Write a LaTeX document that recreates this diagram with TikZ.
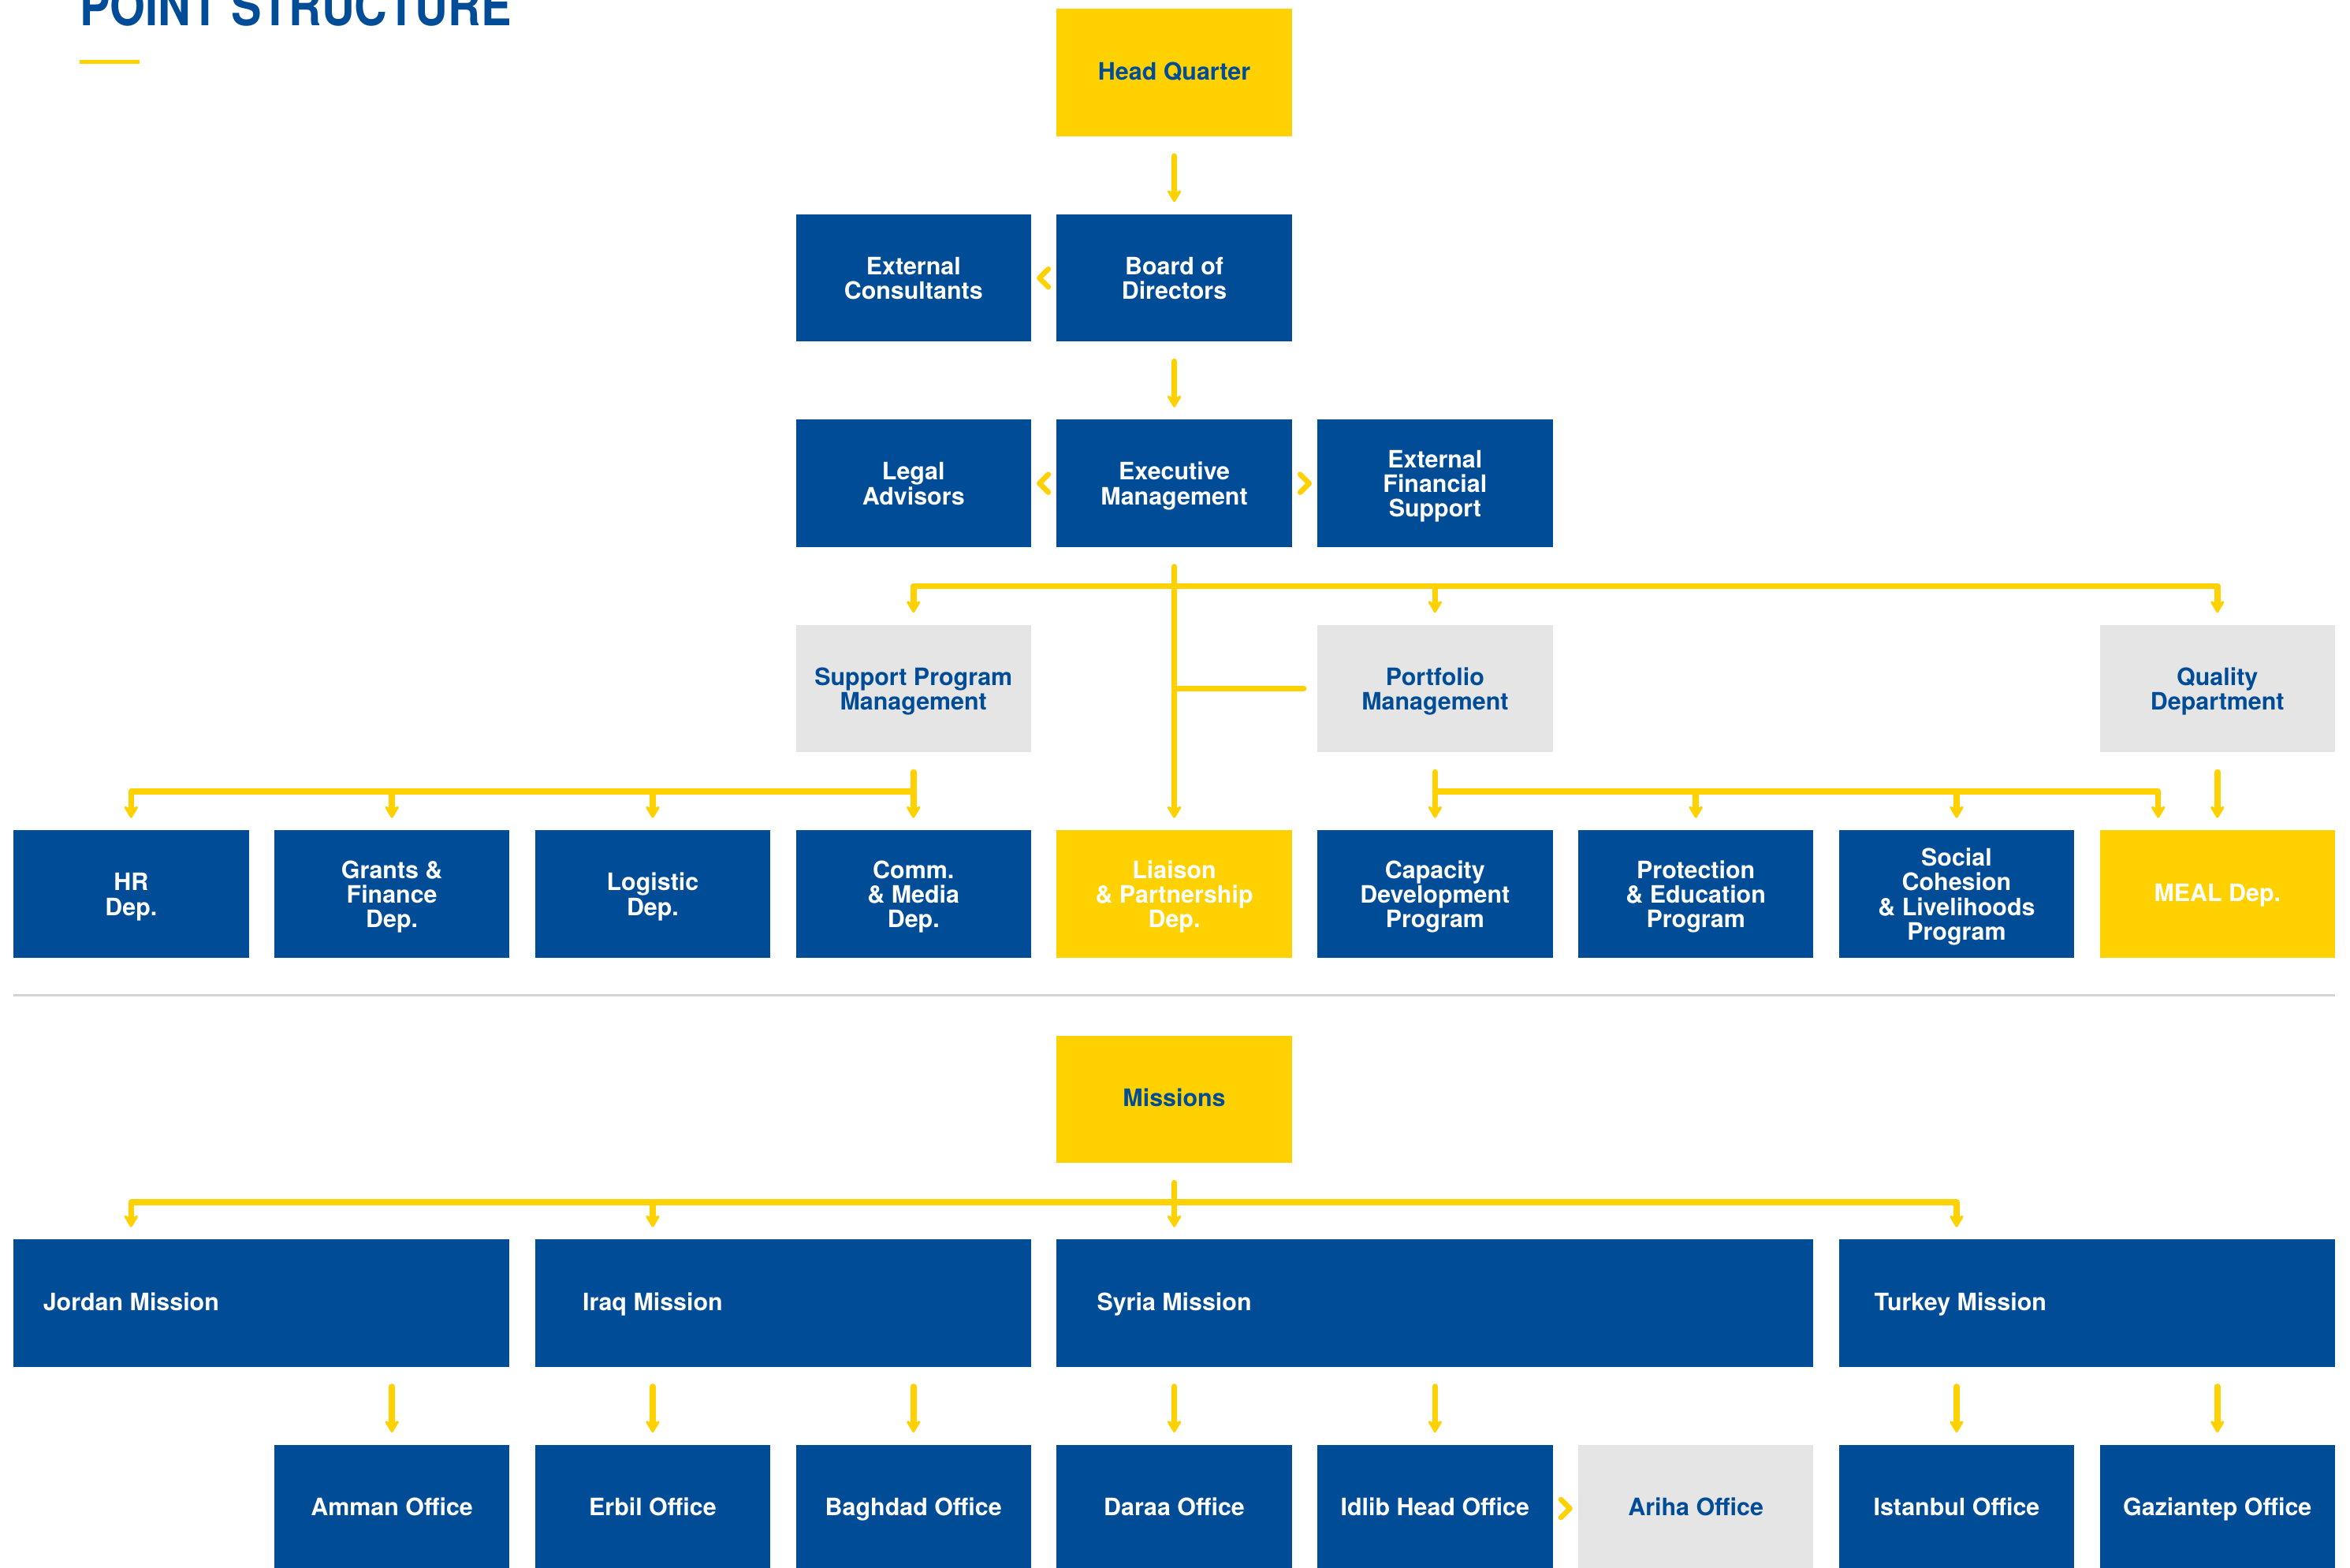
\documentclass[tikz,border=0pt]{standalone}
\usepackage{fontspec}
\setmainfont{TeX Gyre Heros}
\newfontfamily\titlefont{TeX Gyre Heros}[FakeStretch=0.843]
\usetikzlibrary{arrows.meta,calc}
\definecolor{cblue}{RGB}{0,76,151}
\definecolor{cyellow}{RGB}{255,209,0}
\definecolor{cgray}{RGB}{229,229,229}
\definecolor{csep}{RGB}{212,212,212}
\newcommand{\tstrutht}{19.5bp}
\newcommand{\topstrutx}{\rule{0pt}{\tstrutht}}
\newcommand{\botstrutx}{\rule[-3.5bp]{0pt}{3.5bp}}
\newcommand{\ms}{\rule{0pt}{15.5bp}}
\begin{document}
\begin{tikzpicture}[x=1bp,y=-1bp,
 txt/.style={font=\fontsize{16bp}{16.5bp}\selectfont\bfseries,
   execute at begin node=\topstrutx, execute at end node=\botstrutx},
 one/.style={/utils/exec={\renewcommand{\tstrutht}{13bp}}},
 box/.style={txt,minimum width=157bp,minimum height=85bp,inner sep=0pt,align=center},
 bluebox/.style={box,fill=cblue,text=white},
 yelbox/.style={box,fill=cyellow,text=cblue},
 yelwbox/.style={box,fill=cyellow,text=white},
 graybox/.style={box,fill=cgray,text=cblue},
 missionbox/.style={box,fill=cblue,minimum width=331bp},
 lbl/.style={txt,one,inner sep=0pt,text=white},
 conn/.style={draw=cyellow,line width=4bp,line cap=round,line join=round},
 arr/.style={conn,shorten >=8bp,-{Stealth[length=10bp,width=12bp,inset=3.5bp,round]}},
 chev/.style={draw=cyellow,line width=3.5bp,line cap=round,line join=round},
]
\useasboundingbox (0,0) rectangle (1568,1046);
\clip (0,0) rectangle (1568,1046);

% title
\node[anchor=base west,inner sep=0pt,text=cblue,font=\titlefont\bfseries\fontsize{36bp}{36bp}\selectfont] (title) at (53,17) {POINT STRUCTURE};
\draw[cyellow,line width=2.6bp] (53,41.2) -- (93,41.2);

% head quarter section
\node[yelbox,one] (hq) at (783.5,48.5) {Head Quarter};
\node[bluebox] (extcons) at (609.5,185.5) {\ms External\\Consultants};
\node[bluebox] (board) at (783.5,185.5) {\ms Board of\\Directors};
\node[bluebox] (legal) at (609.5,322.5) {\ms Legal\\Advisors};
\node[bluebox] (exec) at (783.5,322.5) {\ms Executive\\Management};
\node[bluebox] (extfin) at (957.5,322.5) {\ms External\\Financial\\Support};
\node[graybox] (support) at (609.5,459.5) {\ms Support Program\\Management};
\node[graybox] (portfolio) at (957.5,459.5) {\ms Portfolio\\Management};
\node[graybox] (quality) at (1479.5,459.5) {\ms Quality\\Department};

\node[bluebox] (hr) at (87.5,596.5) {\ms HR\\Dep.};
\node[bluebox] (grants) at (261.5,596.5) {\ms Grants \&\\Finance\\Dep.};
\node[bluebox] (logistic) at (435.5,596.5) {\ms Logistic\\Dep.};
\node[bluebox] (comm) at (609.5,596.5) {\ms Comm.\\\& Media\\Dep.};
\node[yelwbox] (liaison) at (783.5,596.5) {\ms Liaison\\\& Partnership\\Dep.};
\node[bluebox] (capacity) at (957.5,596.5) {\ms Capacity\\Development\\Program};
\node[bluebox] (protection) at (1131.5,596.5) {\ms Protection\\\& Education\\Program};
\node[bluebox] (social) at (1305.5,596.5) {\ms Social\\Cohesion\\\& Livelihoods\\Program};
\node[yelwbox,one] (meal) at (1479.5,596.5) {MEAL Dep.};

% connectors, head quarter
\draw[arr,shorten <=13bp] (hq) -- (board);
\draw[arr,shorten <=13bp] (board) -- (exec);
\draw[chev] ($(extcons.east)!0.5!(board.west)$) ++(3,-6) -- ++(-6,6) -- ++(6,6);
\draw[chev] ($(legal.east)!0.5!(exec.west)$) ++(3,-6) -- ++(-6,6) -- ++(6,6);
\draw[chev] ($(exec.east)!0.5!(extfin.west)$) ++(-3,-6) -- ++(6,6) -- ++(-6,6);

\coordinate (busA) at (783.5,391);
\draw[arr,shorten <=13bp] (exec) -- (liaison);
\draw[arr] (busA) -| (support.north);
\draw[arr] (busA) -| (quality.north);
\draw[arr] (busA -| portfolio.north) -- (portfolio.north);
\draw[conn,shorten >=9bp] (exec.south |- portfolio.west) -- (portfolio.west);

\coordinate (busB) at (609.5,528);
\draw[arr,shorten <=13bp] (support) -- (comm);
\draw[arr] (busB) -| (hr.north);
\draw[arr] (busB -| grants.north) -- (grants.north);
\draw[arr] (busB -| logistic.north) -- (logistic.north);

\coordinate (busP) at (957.5,528);
\draw[arr,shorten <=13bp] (portfolio) -- (capacity);
\draw[arr] (busP) -| ([xshift=-39.5bp]meal.north);
\draw[arr] (busP -| protection.north) -- (protection.north);
\draw[arr] (busP -| social.north) -- (social.north);
\draw[arr,shorten <=13bp] (quality) -- (meal);

% separator
\coordinate (sepL) at (9,664);
\coordinate (sepR) at (1558,664);
\draw[csep,line width=1.5bp] (sepL) -- (sepR);

% missions section
\node[yelbox,one] (missions) at (783.5,733.5) {Missions};
\node[missionbox] (jordan) at (174.5,869.5) {};
\node[missionbox] (iraq) at (522.5,869.5) {};
\node[missionbox,minimum width=505bp] (syria) at (957.5,869.5) {};
\node[missionbox] (turkey) at (1392.5,869.5) {};
\node[lbl] (jordanlbl) at (87.5,869.5) {Jordan Mission};
\node[lbl] (iraqlbl) at (435.5,869.5) {Iraq Mission};
\node[lbl] (syrialbl) at (783.5,869.5) {Syria Mission};
\node[lbl] (turkeylbl) at (1308,869.5) {Turkey Mission};

\node[bluebox,one] (amman) at (261.5,1006.5) {Amman Office};
\node[bluebox,one] (erbil) at (435.5,1006.5) {Erbil Office};
\node[bluebox,one] (baghdad) at (609.5,1006.5) {Baghdad Office};
\node[bluebox,one] (daraa) at (783.5,1006.5) {Daraa Office};
\node[bluebox,one] (idlib) at (957.5,1006.5) {Idlib Head Office};
\node[graybox,one] (ariha) at (1131.5,1006.5) {Ariha Office};
\node[bluebox,one] (istanbul) at (1305.5,1006.5) {Istanbul Office};
\node[bluebox,one] (gaziantep) at (1479.5,1006.5) {Gaziantep Office};

\coordinate (busC) at (783.5,802);
\draw[arr,shorten <=13bp] (missions.south) -- (missions.south |- syria.north);
\draw[arr] (busC) -| (jordanlbl |- jordan.north);
\draw[arr] (busC) -| (istanbul |- turkey.north);
\draw[arr] (busC -| iraqlbl) -- (iraqlbl |- iraq.north);

\draw[arr,shorten <=13bp] (jordan.south -| amman) -- (amman.north);
\draw[arr,shorten <=13bp] (iraq.south -| erbil) -- (erbil.north);
\draw[arr,shorten <=13bp] (iraq.south -| baghdad) -- (baghdad.north);
\draw[arr,shorten <=13bp] (syria.south -| daraa) -- (daraa.north);
\draw[arr,shorten <=13bp] (syria.south -| idlib) -- (idlib.north);
\draw[arr,shorten <=13bp] (turkey.south -| istanbul) -- (istanbul.north);
\draw[arr,shorten <=13bp] (turkey.south -| gaziantep) -- (gaziantep.north);
\draw[chev] ($(idlib.east)!0.5!(ariha.west)$) ++(-3,-6) -- ++(6,6) -- ++(-6,6);
\end{tikzpicture}
\end{document}
